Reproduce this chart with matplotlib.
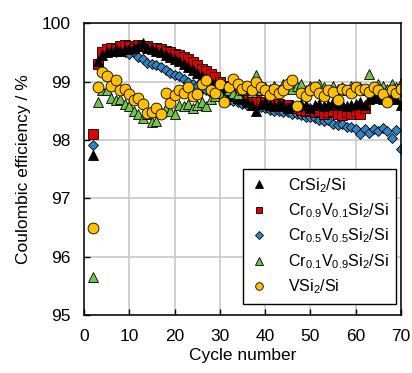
import matplotlib
matplotlib.use("Agg")
import matplotlib.pyplot as plt
import numpy as np

plt.rcParams["font.family"] = ["Liberation Sans", "DejaVu Sans"]
plt.rcParams["mathtext.default"] = "regular"

# Coulombic efficiency (%) per cycle
cycles_full = list(range(2, 71))
cycles_red = list(range(2, 63))

ce_crsi2 = [97.75, 99.35, 99.45, 99.50, 99.52, 99.55, 99.53, 99.56, 99.55, 99.58,
            99.60, 99.66, 99.58, 99.55, 99.52, 99.50, 99.45, 99.42, 99.38, 99.35,
            99.30, 99.25, 99.20, 99.15, 99.10, 99.05, 99.00, 98.95, 98.90, 98.85,
            98.80, 98.75, 98.72, 98.70, 98.65, 98.60, 98.50, 98.62, 98.65, 98.60,
            98.58, 98.62, 98.60, 98.55, 98.60, 98.58, 98.62, 98.60, 98.55, 98.60,
            98.62, 98.58, 98.60, 98.65, 98.60, 98.62, 98.58, 98.60, 98.62, 98.65,
            98.60, 98.70, 98.72, 98.75, 98.70, 98.72, 98.75, 98.70, 98.60]

ce_cr09 = [98.10, 99.30, 99.50, 99.55, 99.58, 99.55, 99.60, 99.62, 99.60, 99.58,
           99.62, 99.60, 99.60, 99.58, 99.57, 99.55, 99.52, 99.50, 99.47, 99.45,
           99.42, 99.38, 99.33, 99.28, 99.22, 99.18, 99.13, 99.08, 99.00, 98.92,
           98.85, 98.80, 98.78, 98.75, 98.72, 98.70, 98.68, 98.65, 98.65, 98.62,
           98.60, 98.62, 98.58, 98.60, 98.55, 98.55, 98.52, 98.50, 98.52, 98.48,
           98.50, 98.45, 98.48, 98.50, 98.45, 98.42, 98.48, 98.45, 98.50, 98.45,
           98.55]

ce_cr05 = [97.92, 99.33, 99.45, 99.50, 99.52, 99.50, 99.52, 99.50, 99.48, 99.50,
           99.42, 99.38, 99.32, 99.30, 99.28, 99.25, 99.20, 99.15, 99.12, 99.10,
           99.05, 99.00, 98.95, 98.92, 98.88, 98.85, 98.80, 98.75, 98.72, 98.70,
           98.68, 98.66, 98.65, 98.62, 98.60, 98.60, 98.58, 98.56, 98.55, 98.52,
           98.50, 98.50, 98.48, 98.47, 98.45, 98.45, 98.42, 98.40, 98.40, 98.38,
           98.35, 98.33, 98.35, 98.28, 98.25, 98.28, 98.22, 98.22, 98.18, 98.10,
           98.18, 98.12, 98.18, 98.15, 98.20, 98.15, 98.03, 98.17, 97.85]

ce_cr01 = [95.65, 98.65, 98.85, 98.85, 98.72, 98.68, 98.70, 98.62, 98.58, 98.50,
           98.45, 98.38, 98.45, 98.30, 98.32, 98.48, 98.55, 98.50, 98.45, 98.60,
           98.58, 98.62, 98.55, 98.60, 98.65, 98.58, 98.70, 98.75, 98.80, 98.72,
           98.85, 98.80, 98.78, 98.85, 98.90, 98.82, 99.12, 98.85, 98.90, 98.88,
           98.92, 98.85, 98.95, 98.90, 98.88, 98.92, 98.95, 98.85, 98.92, 98.88,
           98.95, 98.90, 98.85, 98.92, 98.88, 98.90, 98.85, 98.92, 98.88, 98.90,
           98.85, 99.13, 98.90, 98.95, 98.92, 98.88, 98.95, 98.90, 98.97]

ce_vsi2 = [96.50, 98.90, 99.17, 99.10, 98.92, 99.02, 98.85, 98.88, 98.78, 98.68,
           98.72, 98.62, 98.46, 98.48, 98.55, 98.44, 98.80, 98.63, 98.77, 98.85,
           98.80, 98.90, 98.75, 98.78, 98.95, 99.02, 98.85, 98.80, 98.95, 98.65,
           98.90, 99.05, 98.95, 98.88, 98.92, 98.85, 99.00, 98.90, 98.85, 98.77,
           98.88, 98.80, 98.85, 98.95, 99.02, 98.58, 98.80, 98.75, 98.85, 98.90,
           98.80, 98.75, 98.85, 98.82, 98.68, 98.88, 98.85, 98.80, 98.90, 98.85,
           98.88, 98.82, 98.90, 98.85, 98.78, 98.65, 98.85, 98.80, 98.87]

fig = plt.figure(figsize=(4.12, 3.73), dpi=100)
ax = fig.add_axes([0.204, 0.155, 0.769, 0.783])

kw = dict(linestyle="none", markeredgecolor="black", markeredgewidth=0.6)
h_blue, = ax.plot(cycles_full, ce_cr05, marker="D", markersize=5.6, color="#2e86c8",
                  label="Cr$_{0.5}$V$_{0.5}$Si$_2$/Si", **kw)
h_red, = ax.plot(cycles_red, ce_cr09, marker="s", markersize=6.8, color="#e00000",
                 label="Cr$_{0.9}$V$_{0.1}$Si$_2$/Si", **kw)
h_blk, = ax.plot(cycles_full, ce_crsi2, marker="^", markersize=7.5, color="black",
                 label="CrSi$_2$/Si", **kw)
h_grn, = ax.plot(cycles_full, ce_cr01, marker="^", markersize=7.5, color="#74c34c",
                 label="Cr$_{0.1}$V$_{0.9}$Si$_2$/Si", **kw)
h_yel, = ax.plot(cycles_full, ce_vsi2, marker="o", markersize=7.8, color="#ffc000",
                 label="VSi$_2$/Si", **kw)

ax.set_xlim(0, 70)
ax.set_ylim(95, 100)
ax.set_xticks(range(0, 71, 10))
ax.set_yticks(range(95, 101))
ax.grid(True, color="#c8c8c8", linewidth=1.2)
ax.set_axisbelow(True)
ax.tick_params(direction="in", labelsize=12.5, length=4, width=1, pad=10)
for s in ax.spines.values():
    s.set_linewidth(1.1)

ax.set_xlabel("Cycle number", fontsize=12.5, labelpad=3)
ax.set_ylabel("Coulombic efficiency / %", fontsize=12.5, labelpad=7)

leg = ax.legend(handles=[h_blk, h_red, h_blue, h_grn, h_yel], loc="lower right",
                bbox_to_anchor=(0.985, 0.04), fontsize=11.5, markerscale=0.7,
                fancybox=False, framealpha=1, edgecolor="black", borderpad=0.45,
                labelspacing=0.42, handlelength=1.2, handletextpad=1.2,
                borderaxespad=0)
leg.get_frame().set_linewidth(1.0)

fig.savefig("out.png", dpi=100)
